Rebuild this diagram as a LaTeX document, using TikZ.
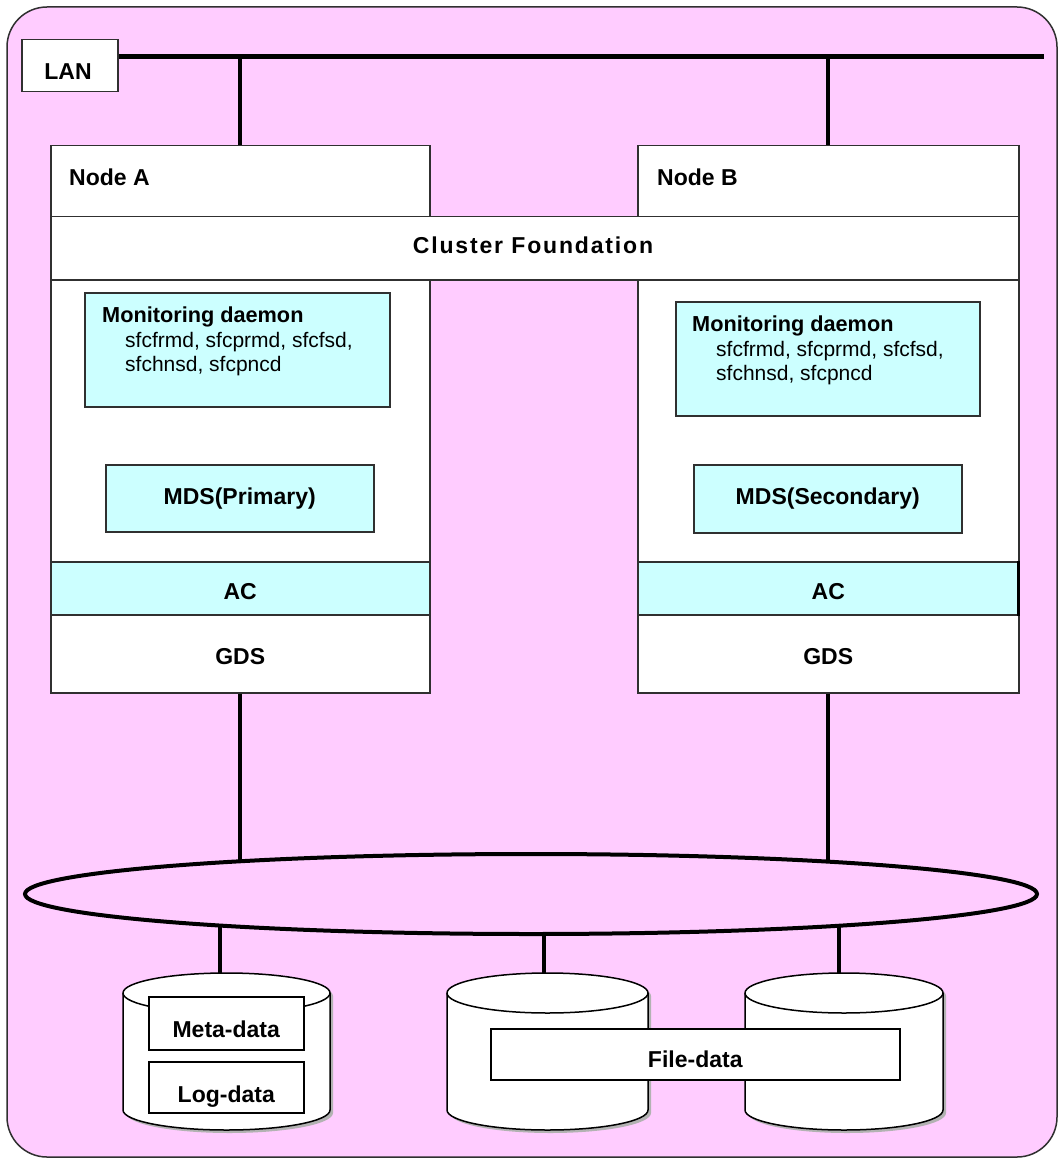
\documentclass[tikz,border=0pt]{standalone}
\usepackage{fontspec}
\setmainfont{Liberation Sans}
\usetikzlibrary{shapes.geometric}
\definecolor{bgpink}{HTML}{FFCCFF}
\definecolor{lcyan}{HTML}{CCFFFF}
\definecolor{edgegray}{HTML}{303030}
\begin{document}
\begin{tikzpicture}[x=1pt,y=-1pt,
  box/.style={draw=edgegray, line width=1.5pt, fill=white, inner sep=0pt, anchor=north west},
  cbox/.style={box, fill=lcyan},
  bus/.style={line width=5pt},
  link/.style={line width=3.6pt},
  lbl/.style={font=\fontsize{23}{26}\selectfont\bfseries, inner sep=0pt},
  mdlbl/.style={font=\fontsize{21.7}{24}\selectfont\bfseries, inner sep=0pt, anchor=base west},
  sfclbl/.style={font=\fontsize{21}{24}\selectfont, inner sep=0pt, anchor=base west},
  cylshape/.style={draw=black, line width=1.5pt, fill=white}
]
\useasboundingbox (0,0) rectangle (1058,1158);
\fill[white] (0,0) rectangle (1058,1158);
\path[draw=edgegray, line width=1.5pt, fill=bgpink, rounded corners=40pt] (7,7) rectangle (1057,1157);

% LAN
\node[box, minimum width=96pt, minimum height=52pt] (lan) at (21,39) {};
\node[lbl, anchor=base] (lantxt) at (68,80) {LAN};
\coordinate (lanend) at (1044,57);
\draw[bus] (lan.east |- lanend) -- (lanend);

% Node A
\node[box, minimum width=379pt, minimum height=71pt] (hdrA) at (50,145) {};
\node[box, minimum width=379pt, minimum height=282pt] (bodyA) at (50,279) {};
\node[cbox, minimum width=379pt, minimum height=53pt] (acA) at (50,561) {};
\node[box, minimum width=379pt, minimum height=78pt] (gdsA) at (50,614) {};
% Node B
\node[box, minimum width=381pt, minimum height=71pt] (hdrB) at (637,145) {};
\node[box, minimum width=381pt, minimum height=282pt] (bodyB) at (637,279) {};
\node[cbox, minimum width=381pt, minimum height=53pt] (acB) at (637,561) {};
\node[box, minimum width=381pt, minimum height=78pt] (gdsB) at (637,614) {};
\draw[line width=3pt] ([xshift=-1.5pt]acB.north east) -- ([xshift=-1.5pt]acB.south east);
% Cluster foundation
\node[box, minimum width=968pt, minimum height=63pt] (cf) at (50,216) {};

\draw[link] (hdrA.north) -- (hdrA.north |- lanend);
\draw[link] (hdrB.north) -- (hdrB.north |- lanend);

\node[lbl, anchor=base west] (nA) at (69,186) {Node A};
\node[lbl, anchor=base west] (nB) at (657,186) {Node B};
\node[lbl, anchor=base] (cftxt) at (533,254) {\addfontfeature{LetterSpace=8}Cluster Foundation};
\node[lbl, anchor=base] (actA) at (acA.center |- 0,599) {AC};
\node[lbl, anchor=base] (actB) at (acB.center |- 0,599) {AC};
\node[lbl, anchor=base] (gdstA) at (gdsA.center |- 0,664) {GDS};
\node[lbl, anchor=base] (gdstB) at (gdsB.center |- 0,664) {GDS};

% Monitoring daemons
\node[cbox, minimum width=305pt, minimum height=114pt] (monA) at (84,292) {};
\node[mdlbl] (monAt) at (102,322) {Monitoring daemon};
\node[sfclbl] (monA1) at (125,347) {sfcfrmd, sfcprmd, sfcfsd,};
\node[sfclbl] (monA2) at (125,371) {sfchnsd, sfcpncd};
\node[cbox, minimum width=304pt, minimum height=114pt] (monB) at (675,301) {};
\node[mdlbl] (monBt) at (692,331) {Monitoring daemon};
\node[sfclbl] (monB1) at (716,356) {sfcfrmd, sfcprmd, sfcfsd,};
\node[sfclbl] (monB2) at (716,380) {sfchnsd, sfcpncd};

% MDS
\node[cbox, minimum width=268pt, minimum height=67pt] (mdsA) at (105,464) {};
\node[lbl] (mdstA) at (mdsA.center) {MDS(Primary)};
\node[cbox, minimum width=268pt, minimum height=68pt] (mdsB) at (693,464) {};
\node[lbl] (mdstB) at (mdsB.center) {MDS(Secondary)};

% ring and connections
\coordinate (ringc) at (531,894);
\coordinate (cAtop) at (220,975);
\coordinate (cBtop) at (544,975);
\coordinate (cCtop) at (839,975);
\draw[link] (gdsA.south) -- (gdsA.south |- ringc);
\draw[link] (gdsB.south) -- (gdsB.south |- ringc);
\draw[link] (cAtop) -- (cAtop |- ringc);
\draw[link] (cBtop) -- (cBtop |- ringc);
\draw[link] (cCtop) -- (cCtop |- ringc);
\node[ellipse, draw=black, line width=4pt, fill=bgpink, minimum width=1012pt, minimum height=80pt, inner sep=0pt] (ring) at (ringc) {};

% cylinders
\foreach \xl/\xr in {123/330, 447/648, 745/943} {
  \pgfmathsetmacro\rx{(\xr-\xl)/2}
  \fill[gray!60, shift={(3,3)}] (\xl,993) -- (\xl,1110) arc[start angle=180, end angle=360, x radius=\rx pt, y radius=20pt] -- (\xr,993) arc[start angle=0, end angle=180, x radius=\rx pt, y radius=20pt] -- cycle;
  \path[cylshape] (\xl,993) -- (\xl,1110) arc[start angle=180, end angle=360, x radius=\rx pt, y radius=20pt] -- (\xr,993) arc[start angle=0, end angle=180, x radius=\rx pt, y radius=20pt] -- cycle;
  \draw[line width=1.5pt] (\xl,993) arc[start angle=180, end angle=360, x radius=\rx pt, y radius=20pt];
}

% data boxes
\node[box, draw=black, minimum width=155pt, minimum height=53pt] (meta) at (148,996) {};
\node[lbl, anchor=base] (metat) at (meta.center |- 0,1037) {Meta-data};
\node[box, draw=black, minimum width=155pt, minimum height=51pt] (logd) at (148,1061) {};
\node[lbl, anchor=base] (logt) at (logd.center |- 0,1102) {Log-data};
\node[box, draw=black, minimum width=409pt, minimum height=51pt] (filed) at (490,1028) {};
\node[lbl, anchor=base] (filet) at (filed.center |- 0,1067) {File-data};
\end{tikzpicture}
\end{document}
